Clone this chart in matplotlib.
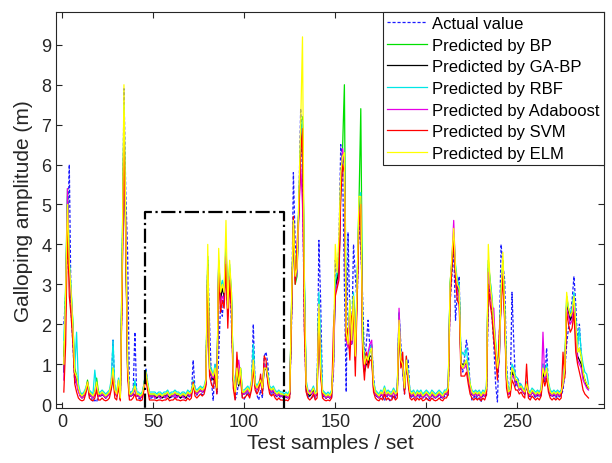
import numpy as np
import matplotlib
matplotlib.use("Agg")
import matplotlib.pyplot as plt

plt.rcParams['font.family'] = ['Liberation Sans', 'DejaVu Sans']

actual = [
 2.0, 2.7, 4.0, 6.0, 2.3, 1.5, 0.5, 0.7, 0.35, 0.22,
 0.18, 0.22, 0.3, 0.45, 0.22, 0.15, 0.05, 0.1, 0.05, 0.22,
 0.18, 0.22, 0.22, 0.15, 0.22, 0.3, 0.45, 1.6, 0.35, 0.22,
 0.55, 0.12, 3.0, 7.9, 5.3, 3.8, 0.35, 0.22, 0.22, 1.8,
 0.22, 0.15, 0.12, 0.18, 0.45, 0.9, 0.55, 0.15, 0.15, 0.18,
 0.15, 0.15, 0.18, 0.15, 0.15, 0.18, 0.15, 0.22, 0.15, 0.18,
 0.15, 0.18, 0.15, 0.22, 0.15, 0.18, 0.15, 0.15, 0.22, 0.18,
 0.22, 1.1, 0.35, 0.22, 0.35, 0.3, 0.22, 0.35, 0.55, 3.6,
 2.0, 0.6, 0.08, 1.0, 0.25, 1.2, 2.5, 2.2, 2.8, 3.1,
 2.4, 3.3, 2.0, 0.8, 0.1, 0.25, 0.55, 0.85, 0.15, 0.12,
 0.22, 0.3, 0.22, 0.45, 2.0, 0.45, 0.22, 0.1, 0.35, 0.15,
 1.2, 1.3, 1.0, 0.35, 0.22, 0.3, 0.22, 0.18, 0.22, 0.15,
 0.18, 0.15, 0.15, 0.18, 0.22, 2.0, 5.8, 4.0, 3.5, 5.0,
 7.4, 5.7, 2.0, 0.35, 0.15, 0.22, 0.15, 0.22, 0.15, 0.22,
 4.1, 2.5, 0.22, 0.15, 0.15, 0.22, 0.15, 0.15, 0.8, 3.6,
 3.0, 4.0, 6.5, 6.0, 3.0, 0.3, 4.3, 2.2, 1.5, 4.0,
 3.2, 2.5, 4.6, 3.9, 2.7, 1.0, 1.5, 2.1, 1.4, 1.5,
 0.7, 0.22, 0.18, 0.15, 0.22, 0.18, 0.08, 0.22, 0.15, 0.08,
 0.15, 0.22, 0.15, 0.22, 2.3, 1.5, 0.8, 0.25, 1.0, 1.1,
 0.22, 0.15, 0.22, 0.18, 0.22, 0.15, 0.22, 0.18, 0.22, 0.15,
 0.08, 0.18, 0.22, 0.15, 0.22, 0.18, 0.22, 0.15, 0.22, 0.18,
 0.22, 0.22, 2.5, 3.2, 3.9, 2.1, 2.8, 3.2, 1.0, 0.8,
 1.2, 1.6, 1.3, 0.45, 0.1, 0.15, 0.22, 0.12, 0.15, 0.05,
 0.22, 0.18, 0.22, 2.5, 3.0, 2.2, 1.5, 0.5, 0.05, 1.5,
 4.0, 3.5, 3.1, 1.0, 0.35, 0.22, 2.8, 1.5, 0.45, 0.65,
 0.55, 0.45, 0.35, 0.22, 0.55, 0.22, 0.18, 0.35, 0.22, 0.15,
 0.22, 0.18, 0.22, 1.0, 0.55, 1.4, 0.45, 0.22, 0.18, 0.22,
 0.15, 0.22, 0.18, 0.22, 0.35, 0.8, 1.5, 1.9, 2.2, 2.6,
 3.2, 2.5, 1.5, 2.0, 1.2, 0.7, 0.55, 0.45, 0.35,
]

bp = [
 1.2, 3.0, 5.4, 3.5, 2.8, 2.0, 0.9, 0.7, 0.4, 0.25,
 0.2, 0.25, 0.35, 0.6, 0.3, 0.25, 0.2, 0.3, 0.65, 0.3,
 0.25, 0.3, 0.25, 0.2, 0.25, 0.3, 0.5, 0.9, 0.35, 0.25,
 0.6, 0.15, 3.5, 7.2, 4.0, 0.9, 0.25, 0.25, 0.3, 0.5,
 0.25, 0.25, 0.2, 0.25, 0.5, 0.8, 0.5, 0.25, 0.25, 0.25,
 0.25, 0.2, 0.25, 0.25, 0.2, 0.25, 0.25, 0.3, 0.2, 0.25,
 0.25, 0.3, 0.25, 0.25, 0.2, 0.25, 0.25, 0.2, 0.3, 0.25,
 0.3, 0.5, 0.35, 0.3, 0.35, 0.4, 0.35, 0.4, 0.6, 3.7,
 0.9, 0.8, 0.7, 0.9, 0.4, 3.6, 2.8, 3.0, 2.9, 4.0,
 2.5, 3.4, 2.8, 0.7, 0.3, 0.9, 0.5, 0.9, 0.3, 0.3,
 0.35, 0.4, 0.3, 0.5, 1.2, 0.5, 0.4, 0.5, 0.6, 0.4,
 0.9, 1.0, 0.7, 0.4, 0.35, 0.4, 0.3, 0.25, 0.3, 0.25,
 0.25, 0.2, 0.25, 0.2, 0.3, 2.5, 4.5, 3.0, 3.2, 5.0,
 6.5, 7.2, 3.2, 0.5, 0.3, 0.25, 0.3, 0.4, 0.25, 0.3,
 2.6, 0.9, 0.3, 0.25, 0.2, 0.25, 0.2, 0.3, 1.1, 3.0,
 3.2, 3.4, 5.5, 6.4, 8.0, 1.8, 1.5, 2.5, 1.6, 2.7,
 1.2, 3.0, 5.0, 7.4, 2.0, 1.0, 1.2, 1.1, 1.3, 1.4,
 0.5, 0.3, 0.25, 0.2, 0.3, 0.25, 0.4, 0.25, 0.3, 0.25,
 0.25, 0.35, 0.25, 0.3, 2.2, 1.1, 1.0, 0.4, 1.1, 0.7,
 0.3, 0.25, 0.3, 0.2, 0.3, 0.25, 0.3, 0.2, 0.25, 0.3,
 0.25, 0.2, 0.3, 0.25, 0.2, 0.25, 0.3, 0.25, 0.2, 0.3,
 0.3, 0.4, 3.0, 3.6, 4.2, 3.4, 3.0, 2.9, 1.0, 0.9,
 1.0, 1.1, 0.8, 0.5, 0.3, 0.25, 0.3, 0.25, 0.3, 0.2,
 0.3, 0.25, 0.4, 3.6, 3.1, 2.6, 2.0, 1.5, 0.9, 1.2,
 2.8, 3.6, 2.3, 0.7, 0.3, 0.35, 0.9, 0.8, 0.6, 0.6,
 0.4, 0.45, 0.35, 0.3, 0.5, 0.3, 0.25, 0.35, 0.3, 0.25,
 0.3, 0.25, 0.35, 0.9, 0.7, 0.9, 0.5, 0.3, 0.25, 0.3,
 0.25, 0.3, 0.25, 0.3, 0.5, 0.9, 2.7, 2.4, 2.2, 2.3,
 2.7, 2.0, 1.3, 1.4, 1.2, 0.8, 0.6, 0.5, 0.4,
]

gabp = [
 0.8, 2.5, 5.0, 3.3, 2.6, 1.8, 0.7, 0.6, 0.35, 0.2,
 0.15, 0.2, 0.3, 0.5, 0.25, 0.2, 0.15, 0.25, 0.5, 0.25,
 0.2, 0.25, 0.2, 0.15, 0.2, 0.25, 0.4, 0.8, 0.3, 0.2,
 0.5, 0.12, 3.2, 7.0, 4.2, 0.9, 0.2, 0.2, 0.25, 0.4,
 0.2, 0.2, 0.15, 0.2, 0.4, 0.75, 0.45, 0.2, 0.2, 0.2,
 0.2, 0.15, 0.2, 0.2, 0.15, 0.2, 0.2, 0.25, 0.15, 0.2,
 0.2, 0.25, 0.2, 0.2, 0.15, 0.2, 0.2, 0.15, 0.25, 0.2,
 0.25, 0.45, 0.3, 0.25, 0.3, 0.35, 0.3, 0.35, 0.5, 3.5,
 0.8, 0.7, 0.6, 0.8, 0.35, 3.5, 2.6, 2.9, 2.7, 3.8,
 2.3, 3.3, 2.6, 0.6, 0.25, 0.8, 0.45, 0.8, 0.25, 0.25,
 0.3, 0.35, 0.25, 0.45, 1.1, 0.45, 0.35, 0.45, 0.55, 0.35,
 0.85, 0.9, 0.6, 0.35, 0.3, 0.35, 0.25, 0.2, 0.25, 0.2,
 0.2, 0.15, 0.2, 0.15, 0.25, 2.3, 4.4, 3.2, 3.4, 4.9,
 6.4, 7.0, 3.0, 0.4, 0.25, 0.2, 0.25, 0.35, 0.2, 0.25,
 2.4, 0.8, 0.25, 0.2, 0.15, 0.2, 0.15, 0.25, 1.0, 2.9,
 3.1, 3.3, 5.4, 6.2, 6.0, 1.7, 1.5, 2.4, 1.5, 2.6,
 1.1, 2.9, 4.8, 5.2, 1.5, 0.8, 1.0, 1.0, 1.2, 1.2,
 0.4, 0.25, 0.2, 0.15, 0.25, 0.2, 0.35, 0.2, 0.25, 0.2,
 0.2, 0.3, 0.2, 0.25, 2.0, 1.0, 0.9, 0.35, 1.0, 0.6,
 0.25, 0.2, 0.25, 0.15, 0.25, 0.2, 0.25, 0.15, 0.2, 0.25,
 0.2, 0.15, 0.25, 0.2, 0.15, 0.2, 0.25, 0.2, 0.15, 0.25,
 0.25, 0.35, 2.9, 3.5, 4.1, 3.3, 2.9, 2.8, 1.0, 1.0,
 1.0, 1.0, 0.7, 0.4, 0.25, 0.2, 0.25, 0.2, 0.25, 0.15,
 0.25, 0.2, 0.35, 3.4, 3.0, 2.5, 1.9, 1.4, 0.8, 1.1,
 2.7, 3.4, 2.2, 0.6, 0.25, 0.3, 0.8, 0.7, 0.5, 0.5,
 0.35, 0.4, 0.3, 0.25, 0.45, 0.25, 0.2, 0.3, 0.25, 0.2,
 0.25, 0.2, 0.3, 0.8, 0.6, 0.8, 0.45, 0.25, 0.2, 0.25,
 0.2, 0.25, 0.2, 0.25, 0.45, 0.8, 2.5, 2.3, 2.1, 2.2,
 2.6, 1.9, 1.2, 1.1, 1.0, 0.7, 0.6, 0.45, 0.4,
]

rbf = [
 1.6, 2.8, 5.2, 3.6, 2.9, 2.0, 0.9, 1.8, 0.5, 0.3,
 0.25, 0.3, 0.4, 0.55, 0.35, 0.3, 0.25, 0.85, 0.4, 0.3,
 0.3, 0.35, 0.3, 0.25, 0.3, 0.35, 0.6, 1.6, 0.4, 0.3,
 0.65, 0.18, 3.6, 7.5, 4.4, 1.1, 0.3, 0.3, 0.35, 0.6,
 0.3, 0.3, 0.25, 0.3, 0.5, 0.85, 0.55, 0.3, 0.3, 0.3,
 0.3, 0.25, 0.3, 0.3, 0.25, 0.3, 0.3, 0.35, 0.25, 0.3,
 0.3, 0.35, 0.3, 0.3, 0.25, 0.3, 0.3, 0.25, 0.35, 0.3,
 0.35, 0.6, 0.4, 0.35, 0.4, 0.45, 0.4, 0.45, 0.65, 3.6,
 1.0, 0.9, 0.7, 1.0, 0.45, 3.5, 2.9, 3.1, 2.8, 3.9,
 2.6, 3.5, 2.7, 0.8, 0.35, 1.0, 0.6, 0.9, 0.35, 0.35,
 0.4, 0.45, 0.35, 0.6, 1.5, 0.55, 0.45, 0.55, 0.65, 0.45,
 0.95, 1.0, 0.75, 0.45, 0.4, 0.45, 0.35, 0.3, 0.35, 0.3,
 0.3, 0.25, 0.3, 0.25, 0.35, 2.4, 4.6, 3.3, 3.3, 5.1,
 6.6, 7.1, 3.3, 0.6, 0.35, 0.3, 0.35, 0.45, 0.3, 0.35,
 2.8, 1.6, 0.35, 0.3, 0.25, 0.3, 0.25, 0.35, 1.1, 3.1,
 3.3, 3.5, 5.6, 6.3, 6.2, 1.9, 1.6, 2.6, 1.7, 2.8,
 1.3, 3.1, 5.1, 5.3, 1.6, 1.0, 1.2, 1.2, 1.4, 1.5,
 0.55, 0.35, 0.3, 0.25, 0.35, 0.3, 0.45, 0.3, 0.35, 0.3,
 0.3, 0.4, 0.3, 0.35, 2.3, 1.2, 1.1, 0.45, 1.2, 0.8,
 0.35, 0.3, 0.35, 0.25, 0.35, 0.3, 0.35, 0.25, 0.3, 0.35,
 0.3, 0.25, 0.35, 0.3, 0.25, 0.3, 0.35, 0.3, 0.25, 0.35,
 0.35, 0.45, 3.0, 3.6, 4.3, 3.5, 3.1, 3.0, 1.2, 1.3,
 1.2, 1.4, 0.9, 0.5, 0.35, 0.3, 0.35, 0.3, 0.35, 0.25,
 0.35, 0.3, 0.45, 3.5, 3.1, 2.7, 2.1, 1.6, 1.0, 1.3,
 2.9, 3.5, 2.4, 0.8, 0.35, 0.4, 1.0, 0.9, 0.7, 0.65,
 0.45, 0.5, 0.4, 0.35, 0.55, 0.35, 0.3, 0.4, 0.35, 0.3,
 0.35, 0.3, 0.4, 1.0, 0.75, 1.0, 0.55, 0.35, 0.3, 0.35,
 0.3, 0.35, 0.3, 0.35, 0.55, 1.0, 2.6, 2.4, 2.3, 2.4,
 2.8, 2.1, 1.4, 1.9, 1.3, 1.0, 0.8, 0.75, 0.5,
]

adaboost = [
 0.6, 2.5, 5.4, 3.4, 2.7, 1.8, 0.7, 0.5, 0.3, 0.2,
 0.15, 0.2, 0.3, 0.5, 0.25, 0.2, 0.15, 0.25, 0.45, 0.2,
 0.2, 0.25, 0.2, 0.15, 0.2, 0.25, 0.45, 0.8, 0.3, 0.2,
 0.5, 0.12, 3.0, 6.0, 4.6, 1.0, 0.2, 0.2, 0.25, 0.4,
 0.2, 0.2, 0.15, 0.2, 0.45, 0.75, 0.4, 0.2, 0.2, 0.2,
 0.15, 0.2, 0.2, 0.15, 0.2, 0.2, 0.15, 0.25, 0.2, 0.2,
 0.2, 0.25, 0.15, 0.2, 0.2, 0.2, 0.15, 0.2, 0.25, 0.2,
 0.25, 0.5, 0.3, 0.25, 0.3, 0.35, 0.3, 0.35, 0.5, 3.4,
 0.9, 0.7, 0.65, 0.85, 0.4, 3.4, 2.5, 2.7, 2.6, 3.7,
 2.2, 3.2, 2.5, 0.65, 0.25, 0.9, 1.1, 0.7, 0.25, 0.25,
 0.3, 0.35, 0.25, 0.5, 1.1, 0.45, 0.35, 0.5, 0.5, 0.35,
 1.0, 0.9, 0.6, 0.35, 0.3, 0.35, 0.25, 0.2, 0.25, 0.2,
 0.2, 0.15, 0.2, 0.15, 0.25, 2.4, 4.5, 3.1, 3.3, 4.7,
 6.0, 5.0, 2.8, 0.5, 0.25, 0.35, 0.25, 0.3, 0.2, 0.25,
 2.4, 0.8, 0.25, 0.2, 0.15, 0.2, 0.15, 0.25, 0.9, 2.8,
 3.0, 3.2, 5.5, 6.4, 6.0, 1.6, 1.4, 2.3, 1.5, 2.5,
 1.1, 2.8, 4.7, 5.0, 1.5, 0.9, 1.1, 1.3, 1.5, 1.6,
 0.4, 0.25, 0.2, 0.15, 0.25, 0.2, 0.35, 0.2, 0.25, 0.2,
 0.2, 0.3, 0.2, 0.25, 2.4, 1.1, 0.9, 0.35, 1.0, 0.65,
 0.25, 0.2, 0.25, 0.15, 0.25, 0.2, 0.25, 0.15, 0.2, 0.25,
 0.2, 0.15, 0.25, 0.2, 0.15, 0.2, 0.25, 0.2, 0.15, 0.25,
 0.25, 0.35, 2.8, 3.6, 4.6, 3.3, 2.8, 2.7, 0.9, 0.9,
 0.9, 1.0, 0.7, 0.4, 0.25, 0.2, 0.25, 0.2, 0.25, 0.15,
 0.25, 0.2, 0.35, 3.3, 2.9, 2.4, 2.4, 1.3, 0.8, 1.1,
 2.6, 3.3, 2.1, 0.6, 0.25, 0.3, 0.7, 0.7, 0.5, 0.5,
 0.35, 0.4, 0.3, 0.25, 0.45, 0.25, 0.2, 0.3, 0.25, 0.2,
 0.25, 0.2, 0.3, 1.8, 0.6, 0.8, 0.45, 0.25, 0.2, 0.25,
 0.2, 0.25, 0.2, 0.25, 0.45, 0.8, 2.4, 2.2, 2.0, 2.1,
 2.5, 1.8, 1.1, 1.0, 0.9, 0.6, 0.5, 0.4, 0.35,
]

svm = [
 0.3, 1.5, 4.5, 2.7, 2.2, 1.5, 0.5, 0.3, 0.15, 0.1,
 0.08, 0.1, 0.25, 0.55, 0.15, 0.1, 0.08, 0.15, 0.35, 0.1,
 0.1, 0.15, 0.1, 0.08, 0.1, 0.15, 0.35, 0.65, 0.15, 0.1,
 0.45, 0.08, 2.8, 6.9, 4.0, 0.7, 0.1, 0.1, 0.15, 0.25,
 0.1, 0.1, 0.08, 0.1, 0.35, 0.65, 0.35, 0.1, 0.1, 0.1,
 0.1, 0.08, 0.1, 0.1, 0.08, 0.1, 0.1, 0.15, 0.08, 0.1,
 0.1, 0.15, 0.1, 0.1, 0.08, 0.1, 0.1, 0.08, 0.15, 0.1,
 0.15, 0.55, 0.2, 0.15, 0.2, 0.25, 0.2, 0.25, 0.45, 3.3,
 0.7, 0.5, 0.4, 0.7, 0.25, 3.3, 2.3, 2.6, 2.4, 3.5,
 1.9, 3.1, 2.3, 0.4, 0.1, 1.3, 0.6, 0.6, 0.15, 0.15,
 0.2, 0.25, 0.15, 0.35, 0.9, 0.35, 0.25, 0.35, 0.75, 0.25,
 1.2, 1.1, 0.5, 0.25, 0.2, 0.25, 0.15, 0.1, 0.15, 0.1,
 0.1, 0.08, 0.1, 0.08, 0.15, 2.2, 4.7, 3.0, 4.0, 4.8,
 6.2, 6.9, 1.9, 0.3, 0.15, 0.1, 0.15, 0.25, 0.1, 0.15,
 2.2, 0.7, 0.15, 0.1, 0.08, 0.1, 0.08, 0.15, 1.9, 2.7,
 2.9, 3.1, 5.2, 6.0, 5.8, 1.6, 1.9, 1.1, 2.2, 2.4,
 0.7, 2.6, 4.5, 5.0, 1.2, 0.6, 1.3, 0.9, 1.1, 1.1,
 0.3, 0.15, 0.1, 0.08, 0.15, 0.1, 0.25, 0.1, 0.15, 0.1,
 0.1, 0.2, 0.1, 0.15, 1.9, 0.9, 1.3, 0.25, 1.2, 0.5,
 0.15, 0.1, 0.15, 0.08, 0.15, 0.1, 0.15, 0.08, 0.1, 0.15,
 0.1, 0.08, 0.15, 0.1, 0.08, 0.1, 0.15, 0.1, 0.08, 0.15,
 0.15, 0.25, 2.6, 3.4, 4.1, 3.1, 2.6, 2.5, 0.7, 0.7,
 0.7, 0.8, 0.5, 0.25, 0.15, 0.1, 0.15, 0.1, 0.15, 0.08,
 0.15, 0.1, 0.25, 3.0, 2.5, 2.2, 1.6, 1.2, 0.6, 1.8,
 2.4, 3.2, 2.0, 0.4, 0.15, 0.2, 0.6, 0.5, 0.35, 0.35,
 0.25, 0.3, 0.2, 0.15, 1.0, 0.15, 0.1, 0.2, 0.15, 0.1,
 0.15, 0.1, 0.2, 0.65, 0.45, 0.65, 0.3, 0.15, 0.1, 0.15,
 0.1, 0.15, 0.1, 0.15, 1.3, 0.65, 2.3, 2.0, 1.8, 1.9,
 2.3, 1.3, 1.0, 0.8, 0.6, 0.35, 0.25, 0.2, 0.15,
]

elm = [
 1.0, 2.8, 5.0, 3.5, 2.8, 1.9, 0.8, 0.7, 0.4, 0.25,
 0.2, 0.25, 0.35, 0.55, 0.3, 0.25, 0.2, 0.3, 0.55, 0.25,
 0.25, 0.3, 0.25, 0.2, 0.25, 0.3, 0.5, 0.9, 0.35, 0.25,
 0.6, 0.15, 3.4, 8.0, 4.5, 1.0, 0.25, 0.25, 0.3, 0.45,
 0.25, 0.25, 0.2, 0.25, 0.45, 0.8, 0.5, 0.25, 0.25, 0.25,
 0.25, 0.2, 0.25, 0.25, 0.2, 0.25, 0.25, 0.3, 0.2, 0.25,
 0.25, 0.3, 0.25, 0.25, 0.2, 0.25, 0.25, 0.2, 0.3, 0.25,
 0.3, 0.5, 0.35, 0.3, 0.35, 0.4, 0.35, 0.4, 0.6, 4.0,
 0.9, 0.8, 0.7, 0.9, 0.4, 3.9, 2.8, 3.0, 2.8, 4.6,
 2.4, 3.6, 2.8, 0.7, 0.3, 0.9, 0.5, 0.9, 0.3, 0.3,
 0.35, 0.4, 0.3, 0.5, 1.1, 0.5, 0.4, 0.5, 0.6, 0.4,
 0.9, 0.9, 0.7, 0.4, 0.35, 0.4, 0.3, 0.25, 0.3, 0.25,
 0.25, 0.2, 0.25, 0.2, 0.3, 2.6, 4.6, 3.2, 3.4, 5.2,
 7.0, 9.2, 3.0, 0.5, 0.3, 0.25, 0.3, 0.4, 0.25, 0.3,
 2.5, 0.9, 0.3, 0.25, 0.2, 0.25, 0.2, 0.3, 1.1, 4.0,
 3.3, 4.2, 5.8, 6.2, 6.3, 1.8, 1.5, 2.6, 1.6, 2.7,
 1.2, 3.0, 5.2, 5.2, 1.6, 1.0, 1.2, 1.1, 1.3, 1.4,
 0.5, 0.3, 0.25, 0.2, 0.3, 0.25, 0.4, 0.25, 0.3, 0.25,
 0.25, 0.35, 0.25, 0.3, 2.1, 1.1, 1.0, 0.4, 1.1, 0.7,
 0.3, 0.25, 0.3, 0.2, 0.3, 0.25, 0.3, 0.2, 0.25, 0.3,
 0.25, 0.2, 0.3, 0.25, 0.2, 0.25, 0.3, 0.25, 0.2, 0.3,
 0.3, 0.4, 3.0, 3.7, 4.4, 3.4, 3.0, 2.9, 1.0, 0.9,
 1.0, 1.1, 0.8, 0.5, 0.3, 0.25, 0.3, 0.25, 0.3, 0.2,
 0.3, 0.25, 0.4, 4.0, 3.0, 2.6, 2.0, 1.5, 0.9, 1.2,
 2.8, 3.8, 2.3, 0.7, 0.3, 0.35, 0.9, 0.8, 0.6, 0.6,
 0.4, 0.45, 0.35, 0.3, 0.5, 0.3, 0.25, 0.35, 0.3, 0.25,
 0.3, 0.25, 0.35, 0.9, 0.7, 0.9, 0.5, 0.3, 0.25, 0.3,
 0.25, 0.3, 0.25, 0.3, 0.5, 0.9, 2.8, 2.4, 2.2, 2.3,
 2.7, 2.0, 1.3, 1.4, 1.2, 0.8, 0.6, 0.5, 0.4,
]

labels = ["Actual value", "Predicted by BP", "Predicted by GA-BP", "Predicted by RBF",
          "Predicted by Adaboost", "Predicted by SVM", "Predicted by ELM"]
colors = ["#1a1aff", "#00e000", "#000000", "#00e6e6", "#e600e6", "#ff0000", "#ffff00"]
box_x = [45.6, 121.8]
box_y = [-0.2, 4.8]

fig = plt.figure(figsize=(6.12, 4.64), dpi=100)
ax = fig.add_axes([56/612, 1-409/464, (604-56)/612, (409-12.7)/464])

series = [actual, bp, gabp, rbf, adaboost, svm, elm]
x = np.arange(1, len(actual) + 1)
for i, (s, lab, c) in enumerate(zip(series, labels, colors)):
    ls = (0, (2.5, 1.5)) if i == 0 else '-'
    ax.plot(x, s, color=c, lw=0.9, ls=ls, label=lab)

ax.plot([box_x[0], box_x[1], box_x[1], box_x[0], box_x[0]],
        [box_y[0], box_y[0], box_y[1], box_y[1], box_y[0]],
        color='black', lw=1.6, ls='-.')

ax.set_xlim(-3.3, 297.5)
ax.set_ylim(-0.1, 9.83)
ax.set_xticks([0, 50, 100, 150, 200, 250])
ax.set_yticks(range(0, 10))
ax.tick_params(direction='in', top=True, right=True, labelsize=13, colors='#262626',
               length=4, width=0.8)
for sp in ax.spines.values():
    sp.set_color('#262626')
    sp.set_linewidth(0.8)
ax.set_xlabel("Test samples / set", fontsize=15, color='#262626', labelpad=2)
ax.set_ylabel("Galloping amplitude (m)", fontsize=15, color='#262626', labelpad=6)

leg = ax.legend(loc='upper right', bbox_to_anchor=(1, 1), borderaxespad=0,
                fontsize=12, fancybox=False, framealpha=1, edgecolor='#262626',
                handlelength=2.4, handletextpad=0.3, labelspacing=0.4, borderpad=0.25)
leg.get_frame().set_linewidth(0.8)

fig.savefig("out.png", dpi=100)
